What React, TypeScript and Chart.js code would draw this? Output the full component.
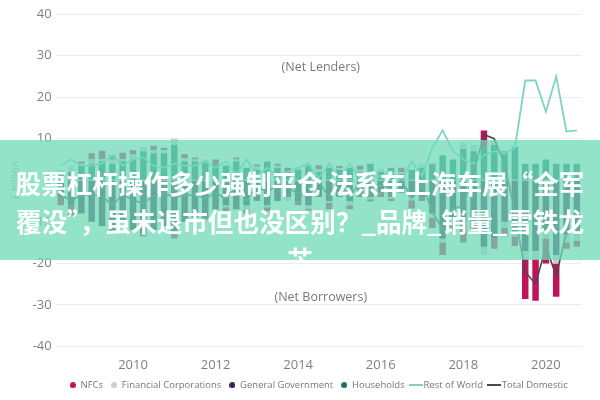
import React, { useEffect, useRef } from 'react';
import { Chart, registerables } from 'chart.js';

Chart.register(...registerables);

const quarters = [
  '2008 Q2', '2008 Q3', '2008 Q4',
  '2009 Q1', '2009 Q2', '2009 Q3', '2009 Q4',
  '2010 Q1', '2010 Q2', '2010 Q3', '2010 Q4',
  '2011 Q1', '2011 Q2', '2011 Q3', '2011 Q4',
  '2012 Q1', '2012 Q2', '2012 Q3', '2012 Q4',
  '2013 Q1', '2013 Q2', '2013 Q3', '2013 Q4',
  '2014 Q1', '2014 Q2', '2014 Q3', '2014 Q4',
  '2015 Q1', '2015 Q2', '2015 Q3', '2015 Q4',
  '2016 Q1', '2016 Q2', '2016 Q3', '2016 Q4',
  '2017 Q1', '2017 Q2', '2017 Q3', '2017 Q4',
  '2018 Q1', '2018 Q2', '2018 Q3', '2018 Q4',
  '2019 Q1', '2019 Q2', '2019 Q3', '2019 Q4',
  '2020 Q1', '2020 Q2', '2020 Q3', '2020 Q4',
];

const yearTicks = ['2010', '2012', '2014', '2016', '2018', '2020'];

const households = [1.5, 2.0, 3.5, 4.0, 4.6, 4.0, 4.6, 5.0, 7.0, 6.5, 6.5, 8.5, 4.5, 4.5, 4.5, 4.0, 3.5, 4.5, 3.0, 2.5, 4.5, 3.0, 2.0, 2.5, 3.5, 2.0, 3.0, 2.5, 3.0, 2.0, 4.0, 2.0, 3.0, 1.5, 2.5, 3.0, 4.0, 6.0, 5.0, 7.5, 7.0, 8.0, 8.5, 7.0, 8.0, 4.0, 4.0, 5.0, 4.0, 4.0, 4.0];
const financialCorps = [1.0, 1.5, 0.5, 1.0, 0.5, 1.0, 0.5, 1.2, 1.0, 0.8, 0.8, 1.5, 0.8, 0.5, 0.5, -1.0, -0.5, 0.5, -1.0, 0.8, -0.5, 0.5, -1.0, 0.5, -0.8, 0.6, -0.5, 0.4, -1.0, 0.5, -0.6, 0.8, -0.5, 0.5, -0.8, 1.0, -1.0, -1.0, -1.0, 1.5, 1.5, -2.0, 1.0, -1.5, -1.0, -2.0, -2.0, -2.0, -2.0, -2.0, -1.5];
const generalGovernment = [-4, -6, -8, -10, -11, -12, -10, -12, -13, -12, -11, -13, -10, -9, -9, -7, -6, -7, -6, -5, -6, -5, -4, -5, -6, -4, -5, -4, -5, -4, -4, -3, -4, -3, -4, -4, -8, -14, -9, -10, -9, -16, -14, -10, -12.5, -17, -17, -12, -18, -13, -13];
const nfcs = [-2, -2.5, 0.5, 1.5, 2, 1, 1.5, 1, -0.5, 1, 0.5, -1, 1, 0.5, -0.5, 1, -1.5, 0.5, -1, 0.5, -1, 0.5, 1, -1, -0.5, 1, -1.5, 0.5, -1, 1, -0.5, -1, -0.5, 1, -2, -1, -2.5, -3, -2, -5, -3, 4, -2.5, -2, -2.3, -9.6, -10, -6, -8, -1.5, -1.5];
const restOfWorld = [3.5, 5, 3.5, 3.5, 4, 6, 3.5, 5, 5.5, 3.5, 3, 4, 3.5, 3.5, 4.5, 3, 4.5, 1.5, 5, 1, 3, 1, 2, 3, 4, 0.5, 4, 0.5, 4, 0.5, 1, 1, 2, 0, 4.5, 1, 7.8, 12, 7, 5, 4, 6, 7, 6.5, 7.8, 24, 24, 16.5, 25, 11.7, 12];
const totalDomestic = [-3.5, -5, -3.5, -3.5, -3.9, -6, -3.4, -4.8, -5.5, -3.7, -3.2, -4, -3.7, -3.5, -4.5, -3, -4.5, -1.5, -5, -1.2, -3, -1, -2, -3, -3.8, -0.4, -4, -0.6, -4, -0.5, -1.1, -1.2, -2, 0, -4.3, -1, -7.5, -12, -7, -6, 2, 11, 10, 4, -7.8, -22, -25, -16, -23, -12.5, -12];

const notes = ['(Net Lenders)', '(Net Borrowers)'];
const noteValues = [27.2, -28.1];

const bannerLines = [
  '股票杠杆操作多少强制平仓 法系车上海车展“全军',
  '覆没”，虽未退市但也没区别？_品牌_销量_雪铁龙',
  '芯',
];

const COLORS = {
  nfc: '#c0135c',
  fc: '#d3cbd0',
  gg: '#3f1d4f',
  hh: '#1f6f6b',
  row: '#7dd4c3',
  td: '#4a4a4a',
};

function makeDot(color: string) {
  const c = document.createElement('canvas');
  c.width = 6;
  c.height = 6;
  const g = c.getContext('2d')!;
  g.fillStyle = color;
  g.beginPath();
  g.arc(3, 3, 3, 0, Math.PI * 2);
  g.fill();
  return c;
}

function makeDash(color: string) {
  const c = document.createElement('canvas');
  c.width = 14;
  c.height = 2;
  const g = c.getContext('2d')!;
  g.fillStyle = color;
  g.fillRect(0, 0, 14, 2);
  return c;
}

const notesPlugin = {
  id: 'netNotes',
  afterDatasetsDraw(chart: any) {
    const { ctx, chartArea, scales } = chart;
    ctx.save();
    ctx.font = '12.5px "Open Sans"';
    ctx.fillStyle = '#7a7a7a';
    ctx.textAlign = 'center';
    ctx.textBaseline = 'middle';
    const cx = (chartArea.left + chartArea.right) / 2 + 2;
    notes.forEach((t, i) => {
      ctx.fillText(t, cx, scales.y.getPixelForValue(noteValues[i]));
    });
    ctx.restore();
  },
};

export default function App() {
  const ref = useRef<HTMLCanvasElement>(null);

  useEffect(() => {
    const canvas = ref.current!;
    const chart = new Chart(canvas, {
      type: 'bar',
      data: {
        labels: quarters,
        datasets: [
          {
            type: 'line',
            label: 'Total Domestic',
            data: totalDomestic,
            borderColor: COLORS.td,
            backgroundColor: COLORS.td,
            borderWidth: 1.6,
            pointRadius: 0,
            pointStyle: makeDash(COLORS.td),
            tension: 0,
            stack: 'td',
            order: 0,
          } as any,
          {
            type: 'line',
            label: 'Rest of World',
            data: restOfWorld,
            borderColor: COLORS.row,
            backgroundColor: COLORS.row,
            borderWidth: 1.8,
            pointRadius: 0,
            pointStyle: makeDash(COLORS.row),
            tension: 0,
            stack: 'row',
            order: 0,
          } as any,
          {
            label: 'Households',
            data: households,
            backgroundColor: COLORS.hh,
            pointStyle: makeDot(COLORS.hh),
            stack: 'dom',
            order: 1,
          } as any,
          {
            label: 'General Government',
            data: generalGovernment,
            backgroundColor: COLORS.gg,
            pointStyle: makeDot(COLORS.gg),
            stack: 'dom',
            order: 1,
          } as any,
          {
            label: 'Financial Corporations',
            data: financialCorps,
            backgroundColor: COLORS.fc,
            pointStyle: makeDot(COLORS.fc),
            stack: 'dom',
            order: 1,
          } as any,
          {
            label: 'NFCs',
            data: nfcs,
            backgroundColor: COLORS.nfc,
            pointStyle: makeDot(COLORS.nfc),
            stack: 'dom',
            order: 1,
          } as any,
        ],
      },
      options: {
        responsive: false,
        animation: false,
        layout: { padding: { top: 14, right: 18, left: 0, bottom: 0 } },
        datasets: {
          bar: { categoryPercentage: 0.9, barPercentage: 0.7, borderWidth: 0 },
        },
        scales: {
          x: {
            stacked: true,
            offset: true,
            grid: { display: false },
            border: { display: false },
            ticks: {
              autoSkip: false,
              maxRotation: 0,
              minRotation: 0,
              padding: 3,
              color: '#808080',
              font: { family: '"Open Sans"', size: 13 },
              callback: (_v: any, i: number) => {
                const q = quarters[i];
                const yr = q.slice(0, 4);
                return q.endsWith('Q1') && yearTicks.includes(yr) ? yr : '';
              },
            },
            afterFit: (s: any) => {
              s.height = 26;
            },
          },
          y: {
            stacked: true,
            min: -40,
            max: 40,
            grid: { color: '#ededed', drawTicks: false },
            border: { display: false },
            ticks: {
              stepSize: 10,
              padding: 4,
              color: '#808080',
              font: { family: '"Open Sans"', size: 13 },
            },
            title: {
              display: true,
              text: '£ billion',
              color: '#9a9a9a',
              font: { family: '"Open Sans"', size: 10.5 },
              padding: { top: 10, bottom: 0 },
            },
            afterFit: (s: any) => {
              s.width = 55.6;
            },
          },
        },
        plugins: {
          legend: {
            position: 'bottom',
            fullSize: false,
            reverse: true,
            labels: {
              usePointStyle: true,
              boxWidth: 6,
              boxHeight: 6,
              padding: 8,
              color: '#777',
              font: { family: '"Open Sans"', size: 9.5 },
            },
          },
          tooltip: { enabled: false },
        },
      } as any,
      plugins: [notesPlugin],
    });
    return () => chart.destroy();
  }, []);

  return (
    <div style={{ position: 'absolute', left: 0, top: 0, width: 600, height: 400, background: '#fff' }}>
      <canvas ref={ref} width={600} height={400} style={{ display: 'block', width: 600, height: 400 }} />
      <div
        style={{
          position: 'absolute',
          left: 0,
          top: 140,
          width: 600,
          height: 120,
          boxSizing: 'border-box',
          paddingTop: 24,
          overflow: 'hidden',
          background: 'rgba(111, 218, 183, 0.75)',
          color: '#ffffff',
          fontFamily: '"Noto Sans CJK SC", sans-serif',
          fontWeight: 700,
          fontSize: 25.6,
          lineHeight: '38px',
          textAlign: 'center',
        }}
      >
        {bannerLines.map((l, i) => (
          <div key={i} style={{ whiteSpace: 'nowrap' }}>{l}</div>
        ))}
      </div>
    </div>
  );
}
